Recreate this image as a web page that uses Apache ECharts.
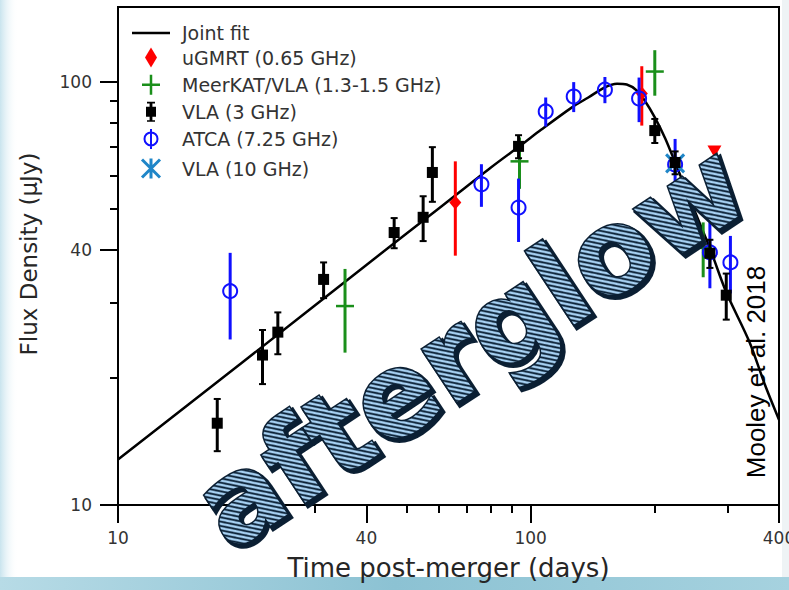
<!DOCTYPE html>
<html>
<head>
<meta charset="utf-8">
<script src="https://cdn.jsdelivr.net/npm/echarts@6/dist/echarts.min.js"></script>
<style>
  html, body { margin: 0; padding: 0; background: #ffffff; }
  #chart { width: 789px; height: 590px; }
  #defs { position: absolute; width: 0; height: 0; overflow: hidden; }
</style>
</head>
<body>
<!-- hatch used by the big "afterglow" lettering -->
<svg id="defs" width="0" height="0">
  <defs>
    <pattern id="afterglowHatch" patternUnits="userSpaceOnUse" width="6" height="6">
      <rect width="6" height="6" fill="#0b2136"></rect>
      <path d="M-3,-3L9,9M-3,3L3,9M3,-3L9,3" stroke="#a8d2f4" stroke-width="2.3"></path>
    </pattern>
  </defs>
</svg>
<div id="chart"></div>
<script>
// Radio afterglow light curve: flux density against days since the merger (log-log)

const xTickMajor = [10, 40, 100, 400];
const xTickMinor = [20, 30, 50, 60, 70, 80, 90, 200, 300];
const yTickMajor = [10, 40, 100];
const yTickMinor = [20, 30, 50, 60, 70, 80, 90];

// Joint model fit
const fitDays = [10, 20, 40, 60, 80, 95, 106, 126, 138, 151, 162, 171, 181, 189, 200, 212, 224, 250, 273, 298, 339, 370, 400];
const fitFlux = [12.8, 21.7, 36.9, 50.2, 62.6, 70.9, 76.9, 86.9, 91.7, 96.8, 98.8, 98.4, 95.2, 90.2, 82.3, 73.4, 64.4, 49.4, 40.0, 31.8, 24.3, 19.2, 15.9];

// uGMRT 0.65 GHz
const ugmrtDays = [65.7, 186];
const ugmrtFlux = [51.8, 93.7];
const ugmrtErr = [13, 15];
const ugmrtLimitDays = [279];
const ugmrtLimitFlux = [68.4];

// MeerKAT / VLA 1.3-1.5 GHz
const meerkatDays = [35.5, 94.0, 200, 262];
const meerkatFlux = [29.5, 64.8, 105.6, 40.5];
const meerkatErr = [6.6, 9, 13, 6];

// VLA 3 GHz
const vla3Days = [17.4, 22.4, 24.4, 31.5, 46.7, 54.9, 57.8, 93.5, 200, 224, 272, 298];
const vla3Flux = [15.6, 22.6, 25.6, 34.1, 44.0, 47.8, 61.0, 70.3, 76.6, 64.4, 39.3, 31.3];
const vla3Err = [2.2, 3.3, 2.9, 3.3, 3.6, 5.8, 9.0, 4.4, 5.0, 4.0, 3.0, 3.9];

// ATCA 7.25 GHz
const atcaDays = [18.7, 76.0, 93.5, 108.8, 127.2, 151.4, 183.2, 224, 272, 305];
const atcaFlux = [32.0, 57.2, 50.4, 85.0, 92.2, 95.7, 91.2, 63.7, 39.5, 37.4];
const atcaErr = [7.4, 6.6, 8.6, 6.7, 7.5, 6.8, 11, 9.5, 7, 5.8];

// VLA 10 GHz
const vla10Days = [224];
const vla10Flux = [64.1];
const vla10Err = [4];

const RED = '#ff0000';
const GREEN = '#1a8f1a';
const BLUE = '#1010ff';
const SKY = '#1f86c8';
const INK = '#000000';

const log10 = Math.log10;

// marker painters, all centred on (x, y) in pixels
const markers = {
  diamond: (x, y, c) => ({ type: 'polygon', shape: { points: [[x, y - 7], [x + 6, y], [x, y + 7], [x - 6, y]] }, style: { fill: c } }),
  plus: (x, y, c) => ({ type: 'line', shape: { x1: x - 9, y1: y, x2: x + 9, y2: y }, style: { stroke: c, lineWidth: 2.5 } }),
  square: (x, y, c) => ({ type: 'rect', shape: { x: x - 5.5, y: y - 5.5, width: 11, height: 11 }, style: { fill: c } }),
  circle: (x, y, c) => ({ type: 'circle', shape: { cx: x, cy: y, r: 7 }, style: { fill: 'none', stroke: c, lineWidth: 2 } }),
  cross: (x, y, c) => ({ type: 'group', children: [
    { type: 'line', shape: { x1: x - 9, y1: y - 9, x2: x + 9, y2: y + 9 }, style: { stroke: c, lineWidth: 3 } },
    { type: 'line', shape: { x1: x + 9, y1: y - 9, x2: x - 9, y2: y + 9 }, style: { stroke: c, lineWidth: 3 } }
  ] }),
  triangleDown: (x, y, c) => ({ type: 'polygon', shape: { points: [[x - 7, y - 6], [x + 7, y - 6], [x, y + 6]] }, style: { fill: c } })
};

function pointSeries(name, days, flux, err, opt) {
  return {
    type: 'custom',
    name: name,
    xAxisIndex: 0,
    yAxisIndex: 0,
    z: opt.z,
    itemStyle: { color: opt.color },
    encode: { x: 0, y: 1 },
    data: days.map((d, i) => [d, flux[i], err ? err[i] : 0]),
    renderItem: function (params, api) {
      const d = api.value(0), f = api.value(1), e = api.value(2);
      const c = api.coord([d, f]);
      const children = [];
      if (e > 0) {
        const hi = api.coord([d, f + e]);
        const lo = api.coord([d, f - e]);
        children.push({ type: 'line', shape: { x1: c[0], y1: hi[1], x2: c[0], y2: lo[1] },
          style: { stroke: opt.color, lineWidth: opt.barWidth } });
        if (opt.cap) {
          children.push({ type: 'line', shape: { x1: c[0] - opt.cap, y1: hi[1], x2: c[0] + opt.cap, y2: hi[1] },
            style: { stroke: opt.color, lineWidth: 2 } });
          children.push({ type: 'line', shape: { x1: c[0] - opt.cap, y1: lo[1], x2: c[0] + opt.cap, y2: lo[1] },
            style: { stroke: opt.color, lineWidth: 2 } });
        }
      }
      children.push(markers[opt.marker](c[0], c[1], opt.color));
      return { type: 'group', children: children };
    }
  };
}

const tickFont = { fontFamily: 'DejaVu Sans', fontSize: 17, color: '#333333' };

const chart = echarts.init(document.getElementById('chart'), null, { renderer: 'svg' });

chart.setOption({
  animation: false,
  backgroundColor: '#ffffff',
  grid: { left: 118, right: 10, top: 7, bottom: 85, outerBoundsMode: 'none', containLabel: false,
    show: true, borderColor: '#000', borderWidth: 2, backgroundColor: 'transparent' },
  legend: {
    orient: 'vertical',
    left: 127,
    top: 18,
    itemWidth: 38,
    itemHeight: 20,
    itemGap: 4.6,
    selectedMode: false,
    textStyle: { fontFamily: 'DejaVu Sans', fontSize: 19, lineHeight: 20, color: '#333333', padding: [0, 0, 0, 7] },
    data: [
      { name: 'Joint fit', icon: 'path://M0,0H38V2.6H0Z', itemStyle: { color: INK } },
      { name: 'uGMRT (0.65 GHz)', icon: 'path://M6,0L12,10L6,20L0,10Z', itemStyle: { color: RED } },
      { name: 'MeerKAT/VLA (1.3-1.5 GHz)', icon: 'path://M0,10H18M9,0V20', itemStyle: { color: 'none', borderColor: GREEN, borderWidth: 2.5 } },
      { name: 'VLA (3 GHz)', icon: 'path://M-5,-5H5V5H-5Z M-1.4,-10H1.4V10H-1.4Z M-4,-10H4V-8.4H-4Z M-4,8.4H4V10H-4Z', itemStyle: { color: INK } },
      { name: 'ATCA (7.25 GHz)', icon: 'path://M-6.5,0A6.5,6.5 0 1,0 6.5,0A6.5,6.5 0 1,0 -6.5,0Z M0,-10V10', itemStyle: { color: 'none', borderColor: BLUE, borderWidth: 2 } },
      { name: 'VLA (10 GHz)', icon: 'path://M-9,-9L9,9M9,-9L-9,9M0,-10V10', itemStyle: { color: 'none', borderColor: SKY, borderWidth: 3 } }
    ]
  },
  xAxis: [
    {
      type: 'log', logBase: 10, min: 10, max: 400, position: 'bottom',
      axisLine: { show: true, onZero: false, lineStyle: { color: '#000', width: 2 } },
      axisTick: { show: false }, axisLabel: { show: false }, splitLine: { show: false },
      name: 'Time post-merger (days)', nameLocation: 'middle', nameGap: 50,
      nameTextStyle: { fontFamily: 'DejaVu Sans', fontSize: 26, color: '#262626' }
    },
    {
      type: 'value', min: 1, max: log10(400), position: 'bottom',
      axisLine: { show: false },
      axisTick: { show: true, length: 18, customValues: xTickMajor.map(log10), lineStyle: { color: '#000', width: 2 } },
      axisLabel: { show: true, margin: 24, customValues: xTickMajor.map(log10), formatter: v => String(Math.round(Math.pow(10, v))), ...tickFont },
      splitLine: { show: false }
    },
    {
      type: 'value', min: 1, max: log10(400), position: 'bottom',
      axisLine: { show: false },
      axisTick: { show: true, length: 8, customValues: xTickMinor.map(log10), lineStyle: { color: '#000', width: 2 } },
      axisLabel: { show: false }, splitLine: { show: false }
    }
  ],
  yAxis: [
    {
      type: 'log', logBase: 10, min: 10, max: 150, position: 'left',
      axisLine: { show: true, onZero: false, lineStyle: { color: '#000', width: 2 } },
      axisTick: { show: false }, axisLabel: { show: false }, splitLine: { show: false },
      name: 'Flux Density (\u03bcJy)', nameLocation: 'middle', nameGap: 78, nameRotate: 90,
      nameTextStyle: { fontFamily: 'DejaVu Sans', fontSize: 23, color: '#262626', padding: [0, 0, 0, 4] }
    },
    {
      type: 'value', min: 1, max: log10(150), position: 'left',
      axisLine: { show: false },
      axisTick: { show: true, length: 18, customValues: yTickMajor.map(log10), lineStyle: { color: '#000', width: 2 } },
      axisLabel: { show: true, margin: 26, customValues: yTickMajor.map(log10), formatter: v => String(Math.round(Math.pow(10, v))), ...tickFont },
      splitLine: { show: false }
    },
    {
      type: 'value', min: 1, max: log10(150), position: 'left',
      axisLine: { show: false },
      axisTick: { show: true, length: 8, customValues: yTickMinor.map(log10), lineStyle: { color: '#000', width: 2 } },
      axisLabel: { show: false }, splitLine: { show: false }
    }
  ],
  series: [
    {
      type: 'line', name: 'Joint fit', xAxisIndex: 0, yAxisIndex: 0, z: 2,
      data: fitDays.map((d, i) => [d, fitFlux[i]]),
      smooth: 0.3, showSymbol: false, symbol: 'none',
      lineStyle: { color: INK, width: 2.5 }, itemStyle: { color: INK }
    },
    pointSeries('uGMRT (0.65 GHz)', ugmrtDays, ugmrtFlux, ugmrtErr, { color: RED, barWidth: 3, marker: 'diamond', z: 3 }),
    pointSeries('uGMRT (0.65 GHz)', ugmrtLimitDays, ugmrtLimitFlux, null, { color: RED, barWidth: 3, marker: 'triangleDown', z: 3 }),
    pointSeries('MeerKAT/VLA (1.3-1.5 GHz)', meerkatDays, meerkatFlux, meerkatErr, { color: GREEN, barWidth: 3, marker: 'plus', z: 4 }),
    pointSeries('ATCA (7.25 GHz)', atcaDays, atcaFlux, atcaErr, { color: BLUE, barWidth: 3, marker: 'circle', z: 5 }),
    pointSeries('VLA (10 GHz)', vla10Days, vla10Flux, vla10Err, { color: SKY, barWidth: 2, marker: 'cross', z: 6 }),
    pointSeries('VLA (3 GHz)', vla3Days, vla3Flux, vla3Err, { color: INK, barWidth: 3, marker: 'square', cap: 3.5, z: 7 })
  ],
  graphic: [
    // soft slide frame around the figure
    { type: 'rect', z: -1, shape: { x: 0, y: 0, width: 18, height: 590 },
      style: { fill: new echarts.graphic.LinearGradient(0, 0, 1, 0, [
        { offset: 0, color: '#c9e4ee' }, { offset: 1, color: 'rgba(255,255,255,0)' }]) } },
    { type: 'rect', z: -1, shape: { x: 0, y: 577, width: 789, height: 13 },
      style: { fill: new echarts.graphic.LinearGradient(0, 0, 1, 0, [
        { offset: 0, color: '#b7dbe6' }, { offset: 0.5, color: '#8cc2d3' }, { offset: 1, color: '#a6d2df' }]) } },
    { type: 'rect', z: -1, shape: { x: 782, y: 0, width: 7, height: 577 }, style: { fill: '#eef3f5' } },
    // credit line
    { type: 'text', z: 50, x: 756, y: 372, rotation: Math.PI / 2,
      style: { text: 'Mooley et al. 2018', fontFamily: 'Liberation Sans', fontSize: 26, fill: '#000',
        align: 'center', verticalAlign: 'middle' } },
    // "afterglow" lettering: dark drop shadow, then the hatched face
    { type: 'text', z: 60, x: 473, y: 348, rotation: 0.585,
      style: { text: 'afterglow', fontFamily: 'DejaVu Sans', fontWeight: 'bold', fontSize: 116,
        fill: '#0b1f33', stroke: '#0b1f33', lineWidth: 5, align: 'center', verticalAlign: 'middle' } },
    { type: 'text', z: 61, x: 470, y: 345, rotation: 0.585,
      style: { text: 'afterglow', fontFamily: 'DejaVu Sans', fontWeight: 'bold', fontSize: 116,
        fill: '#0c2238', stroke: '#0b1f33', lineWidth: 3, align: 'center', verticalAlign: 'middle' } }
  ]
});

// give the front "afterglow" face its light-blue hatch
function hatchLettering() {
  const words = Array.prototype.filter.call(
    document.querySelectorAll('#chart text'), t => t.textContent === 'afterglow');
  if (words.length) {
    words[words.length - 1].setAttribute('fill', 'url(#afterglowHatch)');
  }
}
hatchLettering();
chart.on('finished', hatchLettering);
</script>
</body>
</html>
